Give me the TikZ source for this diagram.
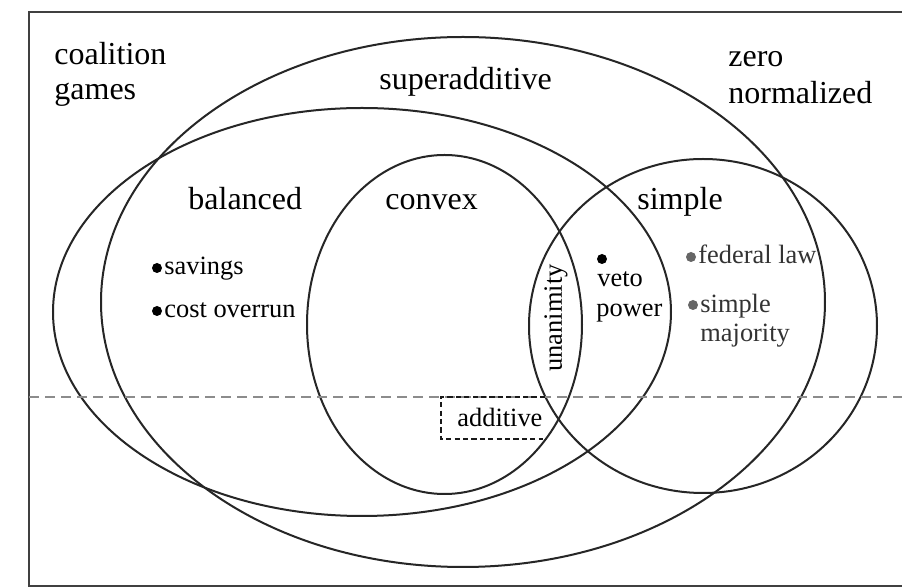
\documentclass[tikz,border=0pt]{standalone}
\usepackage{fontspec}
\setmainfont{Liberation Serif}
\begin{document}
\begin{tikzpicture}[x=0.5pt,y=-0.5pt,
  venn/.style={draw=black!85, line width=1pt},
  framebox/.style={draw=black!75, line width=1pt},
  divider/.style={draw=black!45, line width=0.8pt, dash pattern=on 5pt off 3pt},
  addbox/.style={draw=black!90, line width=0.8pt, dash pattern=on 2.6pt off 1.6pt},
  biglabel/.style={inner sep=0pt, anchor=base west, font=\fontsize{16}{18}\selectfont},
  smalllabel/.style={inner sep=0pt, anchor=base west, font=\fontsize{13.2}{15}\selectfont},
  dot/.style={circle, fill=black, inner sep=0pt, minimum size=5pt},
  greydot/.style={circle, fill=black!60, inner sep=0pt, minimum size=5pt},
  greytext/.style={text=black!80}]
\useasboundingbox (0,0) rectangle (902,587);
\fill[white] (0,0) rectangle (902,587);
% frame (right side falls outside the picture)
\coordinate (frTR) at (902,12);
\coordinate (frTL) at (29,12);
\coordinate (frBL) at (29,586);
\coordinate (frBR) at (902,586);
\draw[framebox] (frTR) -- (frTL) -- (frBL) -- (frBR);
% sets
\draw[venn] (463,302) ellipse [x radius=362, y radius=265]; % superadditive
\draw[venn] (362,312) ellipse [x radius=309, y radius=204]; % balanced
\draw[venn] (444.5,324.5) ellipse [x radius=137.5, y radius=169.5]; % convex
\draw[venn] (703,326) ellipse [x radius=174, y radius=167]; % simple
% divider (zero normalized)
\coordinate (divL) at (29,397);
\coordinate (divR) at (902,397);
\draw[divider] (divL) -- (divR);
% additive box
\coordinate (abTR) at (545,397);
\coordinate (abTL) at (441,397);
\coordinate (abBL) at (441,439);
\coordinate (abBR) at (543,439);
\draw[addbox] (abTR) -- (abTL) -- (abBL) -- (abBR);
% big labels
\node[biglabel] (coal1) at (54,65) {coalition};
\node[biglabel] (coal2) at (54,100) {games};
\node[biglabel] (supadd) at (379,90) {superadditive};
\node[biglabel] (zero1) at (728,67) {zero};
\node[biglabel] (zero2) at (728,104) {normalized};
\node[biglabel] (bal) at (188,210) {balanced};
\node[biglabel] (conv) at (385,210) {convex};
\node[biglabel] (simp) at (637,210) {simple};
% small labels
\node[dot] (dsav) at (157,268) {};
\node[smalllabel] (sav) at (164,275) {savings};
\node[dot] (dcost) at (157,311) {};
\node[smalllabel] (cost) at (164,318) {cost overrun};
\node[dot] (dveto) at (602,259) {};
\node[smalllabel] (veto1) at (597,287) {veto};
\node[smalllabel] (veto2) at (596,317) {power};
\node[greydot] (dfed) at (691,257) {};
\node[smalllabel, greytext] (fed) at (698,264) {federal law};
\node[greydot] (dmaj) at (693,305) {};
\node[smalllabel, greytext] (maj1) at (700,313) {simple};
\node[smalllabel, greytext] (maj2) at (700,342) {majority};
\node[smalllabel] (add) at (457,427) {additive};
\node[inner sep=0pt, rotate=90, font=\fontsize{13.2}{15}\selectfont] (unan) at (556,318) {unanimity};
\end{tikzpicture}
\end{document}
